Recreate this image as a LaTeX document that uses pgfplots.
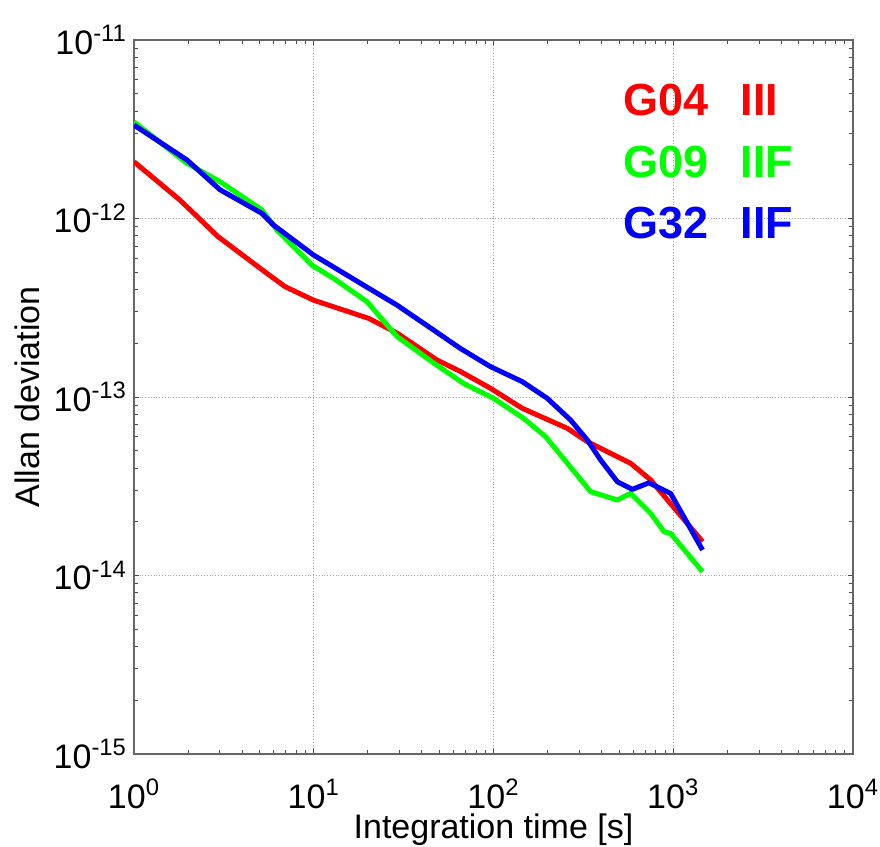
\documentclass[border=0pt]{standalone}
\usepackage{fontspec}
\setmainfont{Liberation Sans}
\usepackage{pgfplots}
\pgfplotsset{compat=1.18}
\begin{document}
\begin{tikzpicture}
\path[use as bounding box] (-67pt,-46.5pt) rectangle (373pt,377pt);
\begin{axis}[
  at={(0,0)}, anchor=south west,
  scale only axis, width=359.5pt, height=357pt,
  xmode=log, ymode=log,
  xmin=1, xmax=10000, ymin=1e-15, ymax=1e-11,
  xtick={1,10,100,1000,10000},
  xticklabels={10\textsuperscript{0},10\textsuperscript{1},10\textsuperscript{2},10\textsuperscript{3},10\textsuperscript{4}},
  ytick={1e-15,1e-14,1e-13,1e-12,1e-11},
  yticklabels={10\textsuperscript{-15},10\textsuperscript{-14},10\textsuperscript{-13},10\textsuperscript{-12},10\textsuperscript{-11}},
  ticklabel style={font=\fontsize{17}{19}\selectfont},
  xticklabel shift=9pt,
  yticklabel shift=0pt,
  label style={font=\fontsize{17}{19}\selectfont},
  xlabel={Integration time [s]},
  ylabel={Allan deviation},
  xlabel style={yshift=4pt},
  ylabel style={yshift=0pt},
  grid=major,
  major grid style={densely dotted, gray!70, line width=0.5pt},
  axis line style={gray!80!black, line width=0.6pt},
  tick style={gray!60!black, line width=0.5pt},
  major tick length=2.5pt, minor tick length=2pt,
  tick align=inside,
  every axis plot/.append style={line width=2.5pt, line join=round},
  clip=true,
]
\addplot[red, no marks] coordinates {
(1,2.08e-12) (1.80,1.27e-12) (2.94,7.91e-13) (5.49,4.93e-13) (6.94,4.15e-13)
(9.97,3.49e-13) (20.2,2.76e-13) (29.1,2.28e-13) (48.6,1.61e-13) (65.5,1.39e-13)
(96.2,1.12e-13) (144.5,8.65e-14) (257.6,6.68e-14) (333,5.62e-14) (580,4.25e-14)
(750,3.43e-14) (929,2.65e-14) (1455,1.55e-14)
};
\addplot[green, no marks] coordinates {
(1,3.48e-12) (1.97,2.04e-12) (3.01,1.61e-12) (5.14,1.12e-12) (6.24,8.63e-13)
(9.77,5.48e-13) (12.9,4.62e-13) (19.8,3.42e-13) (29.1,2.18e-13) (46.5,1.55e-13)
(68.4,1.19e-13) (100,9.84e-14) (147,7.6e-14) (195,6.0e-14) (347,2.95e-14)
(489,2.65e-14) (580,2.89e-14) (750,2.23e-14) (889,1.76e-14) (968,1.72e-14)
(1455,1.05e-14)
};
\addplot[blue, no marks] coordinates {
(1,3.34e-12) (1.97,2.13e-12) (3.01,1.45e-12) (5.14,1.07e-12) (5.97,9.2e-13)
(9.97,6.25e-13) (18.9,4.24e-13) (29.1,3.27e-13) (46.5,2.37e-13) (65.5,1.87e-13)
(96.2,1.48e-13) (144.5,1.22e-13) (199,9.84e-14) (268.5,7.43e-14) (333,5.74e-14)
(394.5,4.44e-14) (489,3.35e-14) (593,3.04e-14) (733,3.31e-14) (968,2.88e-14)
(1455,1.39e-14)
};
\node[anchor=west, text=red, font=\fontsize{22.5}{26}\selectfont\bfseries, inner sep=0pt] at (rel axis cs:0.68,0.916) {G04};
\node[anchor=west, text=red, font=\fontsize{22.5}{26}\selectfont\bfseries, inner sep=0pt] at (rel axis cs:0.843,0.916) {III};
\node[anchor=west, text=green, font=\fontsize{22.5}{26}\selectfont\bfseries, inner sep=0pt] at (rel axis cs:0.68,0.829) {G09};
\node[anchor=west, text=green, font=\fontsize{22.5}{26}\selectfont\bfseries, inner sep=0pt] at (rel axis cs:0.843,0.829) {IIF};
\node[anchor=west, text=blue, font=\fontsize{22.5}{26}\selectfont\bfseries, inner sep=0pt] at (rel axis cs:0.68,0.744) {G32};
\node[anchor=west, text=blue, font=\fontsize{22.5}{26}\selectfont\bfseries, inner sep=0pt] at (rel axis cs:0.843,0.744) {IIF};
\end{axis}
\end{tikzpicture}
\end{document}
